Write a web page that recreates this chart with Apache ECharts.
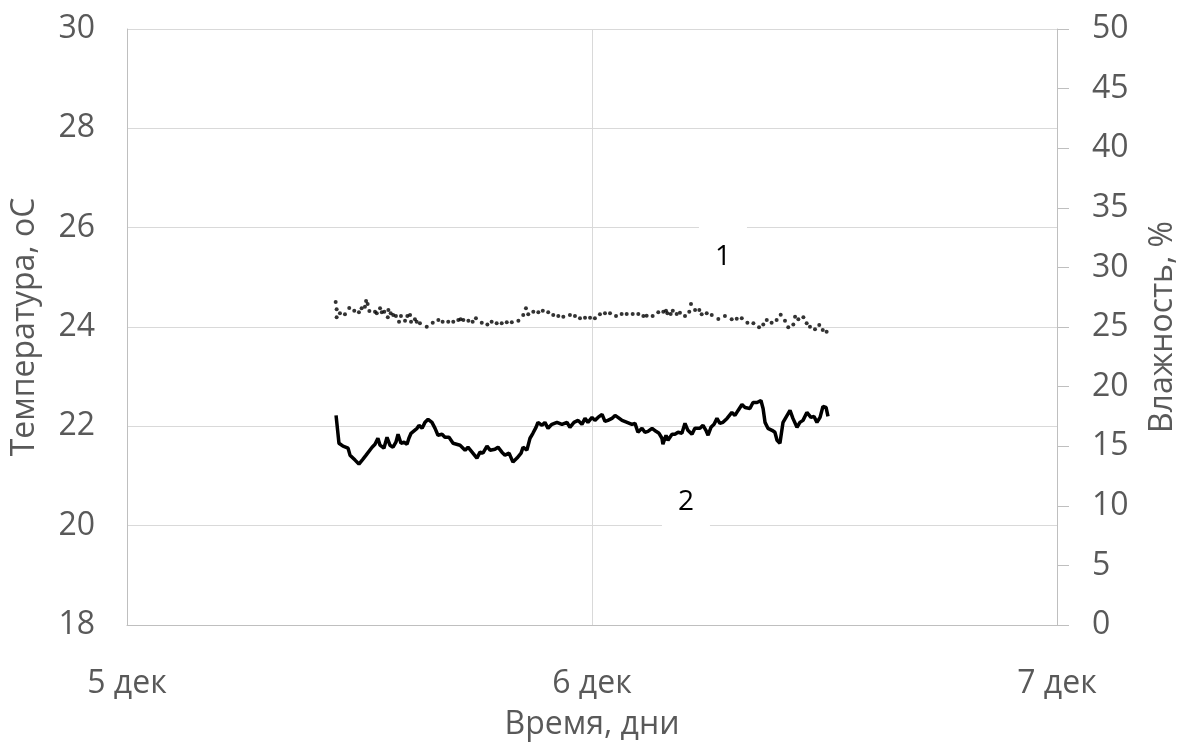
<!DOCTYPE html>
<html>
<head>
<meta charset="utf-8">
<script src="https://cdn.jsdelivr.net/npm/echarts@6/dist/echarts.min.js"></script>
<style>
  html, body { margin: 0; padding: 0; background: #fff; }
  #chart { width: 1181px; height: 743px; }
</style>
</head>
<body>
<div id="chart"></div>
<script>
// time in hours from 5 дек 00:00
const dayLabels = ['5 дек', '6 дек', '7 дек']

// 2 - temperature, left axis
const tempHours = [10.79, 10.94, 11.15, 11.41, 11.51, 11.77, 11.97, 12.18, 12.34, 12.44, 12.65, 12.80, 12.95, 13.06, 13.26, 13.42, 13.57, 13.73, 13.88, 13.99,
  14.14, 14.30, 14.45, 14.55, 14.66, 14.76, 14.97, 15.07, 15.23, 15.38, 15.54, 15.74, 15.90, 16.05, 16.26, 16.41, 16.62, 16.83, 16.93, 17.19,
  17.45, 17.60, 17.81, 18.06, 18.22, 18.37, 18.58, 18.74, 18.99, 19.15, 19.35, 19.51, 19.72, 19.92, 20.13, 20.34, 20.44, 20.64, 20.80, 20.95,
  21.11, 21.21, 21.42, 21.57, 21.73, 21.93, 22.19, 22.45, 22.71, 22.86, 23.07, 23.28, 23.48, 23.64, 23.79, 24.00, 24.15, 24.31, 24.52, 24.67,
  24.82, 25.03, 25.19, 25.34, 25.55, 25.81, 26.06, 26.22, 26.37, 26.58, 26.73, 26.89, 27.10, 27.30, 27.46, 27.61, 27.66, 27.82, 27.92, 28.13,
  28.28, 28.44, 28.64, 28.80, 28.95, 29.16, 29.31, 29.57, 29.73, 29.88, 29.99, 30.14, 30.30, 30.45, 30.60, 30.76, 30.97, 31.22, 31.38, 31.54,
  31.74, 31.90, 32.15, 32.31, 32.52, 32.72, 32.83, 32.93, 33.08, 33.29, 33.44, 33.55, 33.70, 33.86, 34.01, 34.22, 34.37, 34.58, 34.73, 34.89,
  35.09, 35.30, 35.46, 35.61, 35.77, 35.92, 36.08, 36.18]
const tempValues = [22.22, 21.66, 21.60, 21.56, 21.42, 21.32, 21.24, 21.34, 21.42, 21.46, 21.58, 21.64, 21.76, 21.62, 21.56, 21.78, 21.62, 21.58, 21.68, 21.84,
  21.66, 21.68, 21.64, 21.76, 21.86, 21.82, 21.96, 22.02, 21.96, 22.08, 22.14, 22.08, 21.96, 21.82, 21.84, 21.78, 21.78, 21.66, 21.66, 21.62,
  21.52, 21.58, 21.48, 21.36, 21.48, 21.46, 21.60, 21.52, 21.54, 21.58, 21.48, 21.42, 21.46, 21.28, 21.36, 21.46, 21.58, 21.52, 21.76, 21.86,
  21.98, 22.08, 22.02, 22.08, 21.96, 22.04, 22.08, 22.04, 22.08, 21.98, 22.08, 22.12, 22.04, 22.16, 22.08, 22.18, 22.12, 22.18, 22.24, 22.10,
  22.12, 22.16, 22.22, 22.18, 22.12, 22.08, 22.04, 22.06, 21.88, 21.96, 21.88, 21.90, 21.96, 21.90, 21.86, 21.76, 21.64, 21.82, 21.72, 21.84,
  21.84, 21.88, 21.86, 22.06, 21.92, 21.84, 21.96, 21.96, 22.02, 21.92, 21.82, 21.98, 22.04, 22.16, 22.06, 22.08, 22.16, 22.28, 22.22, 22.32,
  22.44, 22.38, 22.36, 22.48, 22.48, 22.52, 22.36, 22.08, 21.96, 21.92, 21.88, 21.72, 21.66, 22.08, 22.18, 22.32, 22.16, 21.98, 22.08, 22.12,
  22.28, 22.18, 22.20, 22.08, 22.18, 22.40, 22.38, 22.20]

// 1 - humidity, right axis
const humHours = [10.77, 10.82, 10.82, 10.99, 11.25, 11.47, 11.73, 11.97, 12.11, 12.28, 12.34, 12.42, 12.51, 12.80, 12.89, 13.06, 13.15, 13.28, 13.46, 13.49,
  13.61, 13.74, 13.88, 14.04, 14.14, 14.35, 14.47, 14.61, 14.66, 14.86, 14.95, 15.12, 15.47, 15.78, 16.07, 16.29, 16.58, 16.84, 17.10, 17.22,
  17.36, 17.62, 17.84, 18.01, 18.31, 18.60, 18.82, 19.08, 19.34, 19.60, 19.86, 20.20, 20.45, 20.59, 20.71, 20.97, 21.23, 21.46, 21.74, 22.00,
  22.26, 22.52, 22.86, 23.12, 23.38, 23.64, 23.90, 24.15, 24.41, 24.67, 24.93, 25.24, 25.53, 25.79, 26.10, 26.39, 26.65, 26.82, 27.13, 27.42,
  27.68, 27.82, 27.89, 28.06, 28.17, 28.37, 28.54, 28.80, 29.02, 29.11, 29.32, 29.54, 29.66, 29.92, 30.18, 30.52, 30.86, 31.21, 31.47, 31.73,
  32.02, 32.33, 32.62, 32.84, 33.02, 33.27, 33.53, 33.74, 33.96, 34.13, 34.39, 34.48, 34.65, 34.91, 35.08, 35.25, 35.51, 35.73, 35.91, 36.11]
const humValues = [27.10, 26.48, 25.81, 26.15, 26.06, 26.59, 26.37, 26.23, 26.57, 26.70, 27.18, 26.93, 26.34, 26.28, 26.15, 26.57, 26.23, 26.28, 25.81, 26.42,
  26.15, 26.00, 25.92, 25.45, 25.92, 25.53, 25.92, 26.00, 25.45, 25.65, 25.45, 25.31, 25.03, 25.36, 25.59, 25.45, 25.45, 25.45, 25.59, 25.65,
  25.59, 25.53, 25.45, 25.73, 25.36, 25.22, 25.45, 25.31, 25.31, 25.39, 25.39, 25.53, 26.00, 26.57, 26.06, 26.28, 26.23, 26.37, 26.23, 26.00,
  25.92, 25.86, 26.00, 25.92, 25.73, 25.78, 25.78, 25.73, 26.06, 26.15, 26.15, 25.92, 26.09, 26.09, 26.09, 26.09, 25.92, 25.95, 25.92, 26.23,
  26.28, 26.37, 26.15, 26.09, 26.37, 26.09, 26.20, 25.92, 26.28, 26.93, 26.42, 26.42, 26.06, 26.15, 26.00, 25.67, 25.92, 25.65, 25.70, 25.73,
  25.36, 25.31, 24.97, 25.22, 25.59, 25.36, 25.59, 26.03, 25.53, 24.97, 25.22, 25.86, 25.65, 25.81, 25.31, 25.03, 24.81, 25.17, 24.75, 24.61]

const tempTicks = [18, 30, 2]
const humTicks = [0, 50, 5]

const gray = '#595959'
const font = 'Open Sans'
const fs = 32

const myChart = echarts.init(document.getElementById('chart'))
const option = {
  animation: false,
  backgroundColor: '#fff',
  textStyle: { fontFamily: font },
  grid: { left: 127, right: 124, top: 29, bottom: 118, containLabel: false, outerBoundsMode: 'none' },
  xAxis: {
    type: 'value',
    min: 0,
    max: 48,
    interval: 24,
    name: 'Время, дни',
    nameLocation: 'middle',
    nameGap: 84,
    nameTextStyle: { color: gray, fontSize: fs, fontFamily: font },
    axisLine: { show: true, lineStyle: { color: '#bfbfbf', width: 1 } },
    axisTick: { show: false },
    axisLabel: {
      color: gray, fontSize: fs, fontFamily: font, margin: 43,
      formatter: v => dayLabels[Math.round(v / 24)]
    },
    splitLine: { show: true, lineStyle: { color: '#d9d9d9', width: 1 } }
  },
  yAxis: [
    {
      type: 'value',
      min: tempTicks[0],
      max: tempTicks[1],
      interval: tempTicks[2],
      name: 'Температура, оС',
      nameLocation: 'middle',
      nameGap: 86,
      nameTextStyle: { color: gray, fontSize: fs, fontFamily: font },
      axisLine: { show: true, lineStyle: { color: '#bfbfbf', width: 1 } },
      axisTick: { show: false },
      axisLabel: { color: gray, fontSize: fs, fontFamily: font, margin: 32 },
      splitLine: { show: true, lineStyle: { color: '#d9d9d9', width: 1 } }
    },
    {
      type: 'value',
      position: 'right',
      min: humTicks[0],
      max: humTicks[1],
      interval: humTicks[2],
      name: 'Влажность, %',
      nameLocation: 'middle',
      nameGap: 90,
      nameRotate: 90,
      nameTextStyle: { color: gray, fontSize: fs, fontFamily: font },
      axisLine: { show: true, lineStyle: { color: '#bfbfbf', width: 1 } },
      axisTick: { show: true, inside: false, length: 12, lineStyle: { color: '#bfbfbf' } },
      axisLabel: { color: gray, fontSize: fs, fontFamily: font, margin: 35 },
      splitLine: { show: false }
    }
  ],
  series: [
    {
      name: 'Влажность',
      type: 'scatter',
      yAxisIndex: 1,
      symbol: 'circle',
      symbolSize: 4,
      itemStyle: { color: '#000' },
      data: humHours.map((h, i) => [h, humValues[i]]),
      markPoint: {
        symbol: 'rect',
        symbolSize: 1,
        itemStyle: { color: 'rgba(0,0,0,0)' },
        label: {
          show: true, position: 'inside', formatter: '1',
          color: '#000', fontSize: 28, fontFamily: font,
          backgroundColor: '#fff', padding: [18, 16]
        },
        data: [{ coord: [30.76, 30.9] }]
      }
    },
    {
      name: 'Температура',
      type: 'line',
      yAxisIndex: 0,
      showSymbol: false,
      lineStyle: { color: '#000', width: 3.5 },
      itemStyle: { color: '#000' },
      data: tempHours.map((h, i) => [h, tempValues[i]]),
      markPoint: {
        symbol: 'rect',
        symbolSize: 1,
        itemStyle: { color: 'rgba(0,0,0,0)' },
        label: {
          show: true, position: 'inside', formatter: '2',
          color: '#000', fontSize: 28, fontFamily: font,
          backgroundColor: '#fff', padding: [18, 16]
        },
        data: [{ coord: [28.85, 20.48] }]
      }
    }
  ]
}
myChart.setOption(option)
window.addEventListener('resize', () => {
  myChart.resize()
})
</script>
</body>
</html>
